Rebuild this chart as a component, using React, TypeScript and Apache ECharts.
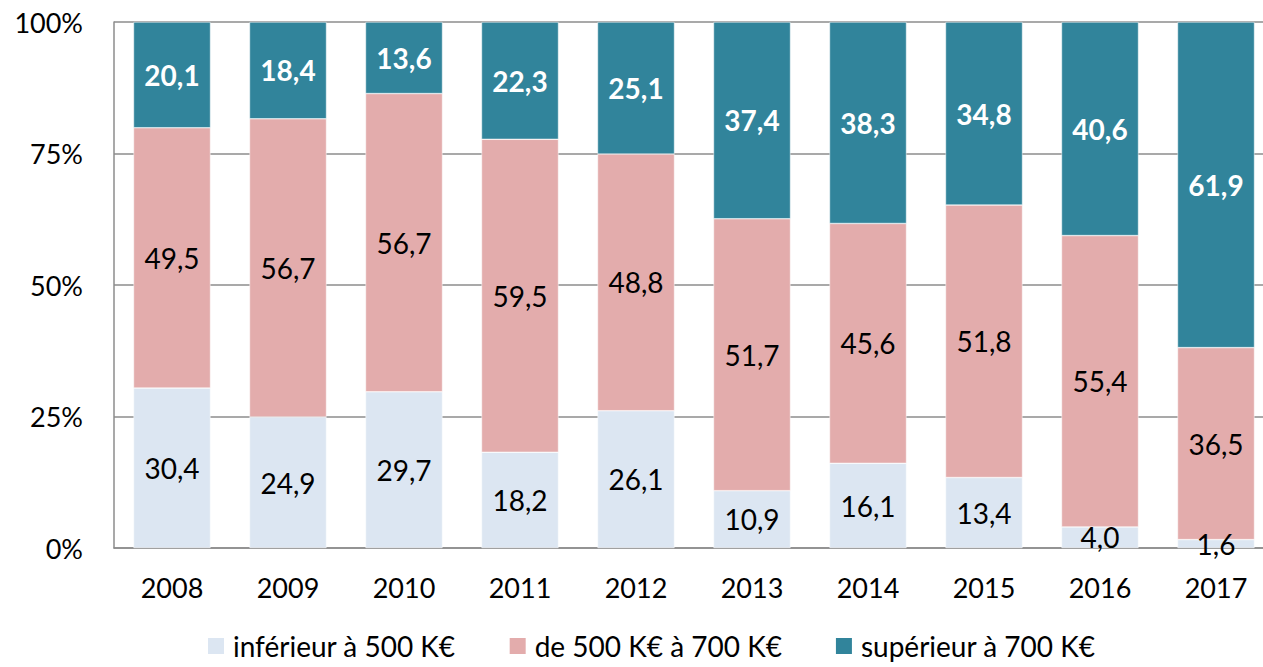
import React, { useEffect, useRef } from "react";
import * as echarts from "echarts";

const years = ["2008", "2009", "2010", "2011", "2012", "2013", "2014", "2015", "2016", "2017"];
const seriesNames = ["inférieur à 500 K€", "de 500 K€ à 700 K€", "supérieur à 700 K€"];
const lowValues = [30.4, 24.9, 29.7, 18.2, 26.1, 10.9, 16.1, 13.4, 4.0, 1.6];
const midValues = [49.5, 56.7, 56.7, 59.5, 48.8, 51.7, 45.6, 51.8, 55.4, 36.5];
const highValues = [20.1, 18.4, 13.6, 22.3, 25.1, 37.4, 38.3, 34.8, 40.6, 61.9];
const colors = ["#dce6f2", "#e3acac", "#31849b"];

const FONT = "Lato";
const CHART_W = 1290;

export default function App() {
  const ref = useRef<HTMLDivElement>(null);
  useEffect(() => {
    if (!ref.current) return;
    const chart = echarts.init(ref.current, undefined, { renderer: "svg" });
    const fmt = (p: any) => Number(p.value).toFixed(1).replace(".", ",");
    const data = [lowValues, midValues, highValues];
    chart.setOption({
      animation: false,
      textStyle: { fontFamily: FONT },
      grid: { left: 114, right: CHART_W - 1274, top: 22, bottom: 119, containLabel: false },
      legend: {
        left: 201,
        top: 627,
        itemWidth: 18,
        itemHeight: 18,
        itemGap: 52,
        icon: "rect",
        textStyle: { fontFamily: FONT, fontSize: 28, color: "#000", padding: [0, 0, 0, 3] },
        data: seriesNames,
      },
      xAxis: {
        type: "category",
        data: years,
        axisLine: { lineStyle: { color: "#8c8c8c", width: 1.5 } },
        axisTick: { inside: true, length: 9, lineStyle: { color: "#8c8c8c", width: 1.5 } },
        axisLabel: { fontFamily: FONT, fontSize: 27, color: "#000", margin: 26 },
      },
      yAxis: {
        type: "value",
        min: 0,
        max: 100,
        interval: 25,
        axisLine: { show: true, lineStyle: { color: "#8c8c8c", width: 1.5 } },
        axisTick: { show: false },
        splitLine: { lineStyle: { color: "#8c8c8c", width: 1.5 } },
        axisLabel: { fontFamily: FONT, fontSize: 27, color: "#000", margin: 31, formatter: "{value}%" },
      },
      series: data.map((vals, i) => ({
        name: seriesNames[i],
        type: "bar",
        stack: "total",
        barWidth: 77,
        data: vals,
        itemStyle: { color: colors[i], borderColor: "#ffffff", borderWidth: 0.5 },
        label: {
          show: true,
          position: "inside",
          formatter: fmt,
          fontFamily: FONT,
          fontSize: 28,
          color: i === 2 ? "#ffffff" : "#000000",
          fontWeight: i === 2 ? "bold" : "normal",
        },
      })),
    });
    return () => chart.dispose();
  }, []);
  return (
    <div style={{ position: "absolute", left: 0, top: 0, width: 1263, height: 667, overflow: "hidden", background: "#fff" }}>
      <div ref={ref} style={{ width: CHART_W, height: 667 }} />
    </div>
  );
}
